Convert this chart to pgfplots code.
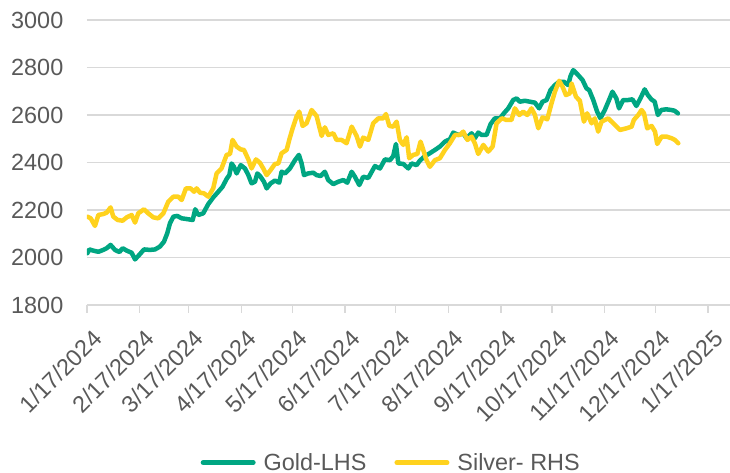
\documentclass[border=0pt]{standalone}
\usepackage{fontspec}
\setmainfont{Liberation Sans}
\usepackage{pgfplots}
\pgfplotsset{compat=1.18}
\definecolor{goldc}{RGB}{0,166,130}
\definecolor{silverc}{RGB}{255,210,30}
\definecolor{txt}{RGB}{89,89,89}
\definecolor{gridc}{RGB}{217,217,217}
\begin{document}
\begin{tikzpicture}
\begin{axis}[
 scale only axis, width=643bp, height=285bp,
 xmin=0, xmax=379, ymin=1800, ymax=3000,
 ytick={1800,2000,...,3000},
 xtick={0,31,60,91,121,152,182,213,244,274,305,335,366},
 xticklabels={1/17/2024,2/17/2024,3/17/2024,4/17/2024,5/17/2024,6/17/2024,7/17/2024,8/17/2024,9/17/2024,10/17/2024,11/17/2024,12/17/2024,1/17/2025},
 axis x line*=bottom, axis y line*=left,
 x axis line style={draw=gridc, line width=1.3bp, -},
 y axis line style={draw=none},
 ymajorgrids, grid style={draw=gridc, line width=1.3bp},
 xtick style={draw=gridc, line width=1.3bp},
 ytick style={draw=none},
 tick align=outside, major tick length=7.5bp,
 ticklabel style={font=\fontsize{23.5}{28}\selectfont, text=txt},
 /pgf/number format/assume math mode=true,
 /pgf/number format/1000 sep={},
 xticklabel style={rotate=45, anchor=east, inner sep=0pt, xshift=-8bp, yshift=-23bp},
 yticklabel style={anchor=east, inner sep=0pt, xshift=-16bp},
 legend columns=2, legend cell align=left,
 legend style={at={(0.1765,-0.553)}, anchor=west, draw=none, fill=none, inner sep=0pt,
   font=\fontsize{23.5}{28}\selectfont, text=txt,
   /tikz/every odd column/.append style={column sep=6bp},
   /tikz/every even column/.append style={column sep=26bp}},
 legend image code/.code={\draw[#1, line width=5bp, line cap=round] (0bp,0bp) -- (50bp,0bp);},
]
\addplot[goldc, line width=4.5bp, line join=round, line cap=round] coordinates {
(0.2,2018)(1.4,2034)(3.7,2029)(6.7,2024)(9.6,2032)(11.6,2039)(13.9,2053)(16.5,2032)(19.1,2023)(21.0,2039)(23.4,2029)(26.3,2020)(28.3,1992)(30.8,2011)(33.6,2034)(37.1,2032)(40.1,2034)(43.0,2046)(45.4,2067)(47.3,2102)(48.9,2144)(50.9,2172)(53.2,2175)(55.8,2165)(58.7,2162)(62.3,2158)(63.8,2203)(65.6,2179)(68.5,2186)(71.5,2225)(74.4,2253)(77.4,2277)(79.9,2298)(82.3,2331)(83.9,2347)(85.2,2396)(86.6,2382)(88.2,2354)(90.6,2389)(93.1,2375)(95.1,2347)(97.0,2312)(99.0,2319)(100.4,2354)(102.3,2340)(104.3,2319)(105.9,2291)(108.2,2312)(110.8,2324)(113.3,2315)(114.7,2361)(116.7,2354)(119.6,2375)(122.6,2410)(124.9,2432)(126.5,2396)(127.9,2347)(130.4,2354)(133.4,2357)(135.3,2347)(137.7,2343)(140.2,2361)(142.2,2326)(145.2,2309)(148.1,2319)(151.1,2326)(153.4,2315)(156.0,2361)(157.9,2340)(160.5,2305)(162.8,2340)(165.8,2335)(169.7,2385)(172.7,2375)(175.6,2413)(178.6,2410)(180.5,2427)(182.1,2478)(183.5,2396)(186.4,2394)(189.4,2375)(191.3,2396)(194.3,2389)(196.2,2408)(199.2,2427)(202.1,2439)(205.1,2453)(208.0,2467)(211.0,2488)(213.9,2498)(215.9,2526)(218.8,2516)(221.8,2523)(223.7,2502)(226.7,2523)(228.6,2502)(230.6,2526)(232.6,2516)(235.5,2516)(237.9,2562)(240.4,2586)(243.4,2586)(245.7,2607)(248.3,2628)(251.2,2663)(253.2,2670)(255.1,2656)(258.1,2660)(261.0,2656)(264.0,2652)(266.5,2628)(268.5,2656)(270.9,2663)(273.2,2705)(275.8,2726)(278.3,2740)(281.1,2740)(283.6,2726)(285.0,2764)(286.6,2789)(289.5,2768)(292.1,2747)(294.4,2712)(296.0,2705)(298.4,2663)(300.7,2614)(302.6,2586)(305.2,2621)(307.7,2663)(309.7,2698)(312.0,2670)(313.6,2628)(316.0,2663)(318.9,2663)(321.5,2666)(323.8,2638)(326.2,2670)(328.7,2708)(330.6,2684)(332.6,2666)(334.6,2656)(336.5,2600)(338.5,2621)(341.4,2624)(344.4,2621)(346.3,2618)(348.3,2607)
};
\addlegendentry{Gold-LHS}
\addplot[silverc, line width=4.5bp, line join=round, line cap=round] coordinates {
(0.2,2172)(2.2,2165)(4.7,2133)(6.7,2179)(9.6,2183)(11.6,2189)(13.9,2211)(15.5,2172)(18.1,2158)(21.0,2155)(23.4,2169)(26.3,2179)(28.3,2147)(30.2,2186)(33.6,2203)(36.1,2186)(39.1,2169)(42.0,2165)(45.0,2186)(47.9,2235)(50.9,2256)(53.8,2256)(55.8,2242)(58.3,2291)(61.1,2291)(63.1,2277)(64.6,2291)(66.6,2273)(69.0,2270)(71.5,2256)(74.4,2291)(76.4,2354)(79.3,2375)(82.3,2432)(84.3,2436)(85.8,2495)(88.2,2467)(90.6,2455)(92.5,2453)(95.1,2413)(97.0,2375)(99.6,2413)(101.9,2399)(103.9,2375)(105.9,2347)(108.2,2368)(110.8,2394)(112.8,2396)(114.7,2439)(117.7,2453)(119.2,2495)(121.2,2544)(123.5,2593)(125.1,2614)(127.1,2554)(129.4,2565)(132.4,2621)(135.3,2596)(138.3,2512)(140.2,2548)(142.2,2516)(145.2,2523)(147.1,2495)(150.1,2495)(153.0,2481)(156.0,2551)(158.9,2512)(160.9,2467)(162.8,2505)(165.8,2495)(168.7,2565)(171.7,2586)(174.6,2586)(176.2,2604)(178.2,2554)(180.5,2551)(182.5,2572)(184.4,2495)(186.4,2474)(188.4,2506)(189.9,2418)(192.3,2432)(194.7,2436)(196.6,2488)(198.2,2453)(200.1,2410)(202.1,2382)(205.1,2410)(208.0,2418)(211.0,2453)(213.9,2481)(216.9,2516)(219.8,2516)(221.8,2530)(224.2,2495)(226.7,2509)(228.6,2481)(230.6,2436)(233.6,2474)(236.5,2446)(239.1,2467)(241.4,2565)(244.4,2586)(247.3,2579)(250.2,2579)(252.2,2628)(254.8,2600)(257.1,2614)(259.5,2600)(262.0,2628)(264.0,2600)(266.0,2544)(268.5,2590)(271.3,2582)(273.8,2649)(275.8,2698)(278.3,2744)(280.3,2719)(282.3,2684)(284.6,2691)(285.6,2733)(288.2,2677)(290.5,2660)(292.9,2572)(294.8,2607)(297.4,2565)(299.3,2586)(301.3,2530)(303.3,2572)(307.2,2586)(310.2,2565)(314.1,2537)(318.0,2544)(321.0,2551)(322.3,2579)(324.9,2600)(326.9,2621)(328.3,2607)(330.2,2544)(332.8,2554)(334.8,2530)(336.1,2478)(338.7,2509)(341.6,2509)(344.6,2502)(346.5,2495)(348.5,2481)
};
\addlegendentry{Silver- RHS}
\end{axis}
\pgfresetboundingbox
\path[use as bounding box] (-87bp,-168bp) rectangle (643bp,305bp);
\end{tikzpicture}
\end{document}
